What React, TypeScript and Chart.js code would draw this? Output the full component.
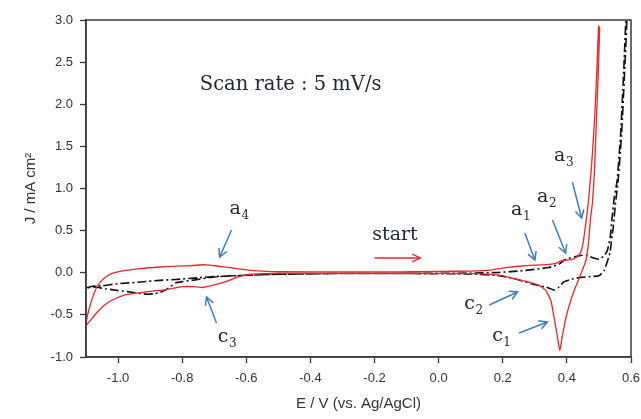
import React, { useEffect, useRef } from 'react';
import { Chart, registerables } from 'chart.js';

Chart.register(...registerables);

// ---- Axis setup ----
const xTicks = [-1.0, -0.8, -0.6, -0.4, -0.2, 0.0, 0.2, 0.4, 0.6];
const yTicks = [-1.0, -0.5, 0.0, 0.5, 1.0, 1.5, 2.0, 2.5, 3.0];
const xTitle = 'E / V (vs. Ag/AgCl)';
const yTitle = 'J / mA cm\u00B2';

// ---- Red (solid) CV loop: E (V), J (mA/cm2) ----
const redE = [
  -0.10, 0.00, 0.10, 0.16, 0.21, 0.26, 0.30, 0.345, 0.365, 0.381, 0.396, 0.417, 0.432, 0.443, 0.450, 0.456, 0.461, 0.467, 0.477, 0.487, 0.494, 0.499,
  0.502, 0.498, 0.492, 0.486, 0.480, 0.474, 0.467, 0.459, 0.443, 0.427, 0.412, 0.396, 0.386, 0.378, 0.372, 0.366, 0.360, 0.350, 0.334, 0.313, 0.282, 0.241, 0.199, 0.158, 0.106, 0.00, -0.20, -0.40, -0.50,
  -0.55, -0.60, -0.63, -0.66, -0.70, -0.735, -0.765, -0.80, -0.85, -0.90, -0.95, -0.98, -1.005, -1.03, -1.05, -1.07, -1.085, -1.10,
  -1.095, -1.088, -1.08, -1.065, -1.045, -1.02, -0.98, -0.93, -0.87, -0.82, -0.77, -0.735, -0.715, -0.69, -0.65, -0.60, -0.55, -0.50, -0.30, -0.10,
];
const redJ = [
  0.012, 0.016, 0.02, 0.03, 0.06, 0.08, 0.09, 0.10, 0.11, 0.14, 0.15, 0.16, 0.19, 0.24, 0.34, 0.50, 0.65, 0.84, 1.27, 1.86, 2.46, 2.93,
  2.90, 2.40, 1.80, 1.20, 0.84, 0.65, 0.34, 0.14, -0.02, -0.17, -0.33, -0.55, -0.75, -0.92, -0.80, -0.66, -0.53, -0.33, -0.21, -0.15, -0.11, -0.075, -0.035, -0.016, -0.01, -0.008, -0.008, -0.008, -0.008,
  -0.012, -0.025, -0.055, -0.10, -0.145, -0.175, -0.165, -0.165, -0.20, -0.22, -0.245, -0.265, -0.30, -0.35, -0.41, -0.49, -0.56, -0.62,
  -0.50, -0.40, -0.30, -0.16, -0.07, -0.01, 0.025, 0.05, 0.068, 0.078, 0.085, 0.095, 0.09, 0.08, 0.06, 0.035, 0.02, 0.012, 0.01, 0.012,
];

// ---- Black (dash-dot) CV loop ----
const blackE = [
  -0.10, 0.10, 0.19, 0.261, 0.344, 0.375, 0.396, 0.437, 0.459, 0.479, 0.50, 0.516, 0.526, 0.535, 0.541, 0.548, 0.557, 0.568, 0.578, 0.584,
  0.587, 0.581, 0.571, 0.560, 0.551, 0.545, 0.541, 0.535, 0.530, 0.516, 0.50, 0.469, 0.443, 0.417, 0.390, 0.375, 0.360, 0.334, 0.292, 0.241, 0.189, 0.10, -0.10, -0.30, -0.50,
  -0.60, -0.70, -0.76, -0.80, -0.82, -0.85, -0.87, -0.89, -0.91, -0.95, -1.00, -1.04, -1.07, -1.10,
  -1.08, -1.05, -1.00, -0.93, -0.87, -0.82, -0.75, -0.70, -0.60, -0.50, -0.30, -0.10,
];
const blackJ = [
  -0.008, -0.004, 0.004, 0.024, 0.063, 0.10, 0.16, 0.20, 0.21, 0.18, 0.16, 0.20, 0.26, 0.42, 0.65, 0.90, 1.10, 1.67, 2.46, 3.0,
  3.0, 2.46, 1.67, 1.10, 0.80, 0.55, 0.44, 0.25, 0.18, 0.024, -0.035, -0.047, -0.055, -0.075, -0.11, -0.17, -0.205, -0.17, -0.134, -0.075, -0.035, -0.015, -0.009, -0.009, -0.018,
  -0.03, -0.05, -0.085, -0.105, -0.12, -0.20, -0.235, -0.25, -0.255, -0.235, -0.21, -0.19, -0.17, -0.18,
  -0.16, -0.155, -0.13, -0.11, -0.09, -0.08, -0.06, -0.045, -0.03, -0.018, -0.009, -0.008,
];

// ---- Peak annotations (data coordinates) ----
const peakMain = ['a', 'a', 'a', 'a', 'c', 'c', 'c'];
const peakSub = ['1', '2', '3', '4', '1', '2', '3'];
const peakLabelE = [0.226, 0.307, 0.360, -0.652, 0.167, 0.080, -0.689];
const peakLabelJ = [0.685, 0.840, 1.326, 0.697, -0.810, -0.430, -0.822];
const arrowFromE = [0.269, 0.355, 0.417, -0.646, 0.251, 0.158, -0.693];
const arrowFromJ = [0.472, 0.626, 1.077, 0.507, -0.715, -0.383, -0.596];
const arrowToE = [0.300, 0.396, 0.446, -0.683, 0.339, 0.246, -0.724];
const arrowToJ = [0.151, 0.234, 0.650, 0.187, -0.584, -0.228, -0.288];

const scanText = 'Scan rate : 5 mV/s';
const scanPos = [-0.745, 2.169];
const startText = 'start';
const startPos = [-0.207, 0.389];
const startArrow = [-0.200, 0.175, -0.057, 0.175];

const RED = '#e8262b';
const BLUE = '#3d7dbd';
const INK = '#1c2530';
const AXIS = '#3a3a3a';
const SERIF = '"DejaVu Serif", "Liberation Serif", serif';
const SANS = '"Liberation Sans", Arial, sans-serif';

function drawArrow(ctx: CanvasRenderingContext2D, x1: number, y1: number, x2: number, y2: number, head: number, spread: number) {
  ctx.beginPath();
  ctx.moveTo(x1, y1);
  ctx.lineTo(x2, y2);
  ctx.stroke();
  const ang = Math.atan2(y2 - y1, x2 - x1);
  ctx.beginPath();
  ctx.moveTo(x2 - head * Math.cos(ang - spread), y2 - head * Math.sin(ang - spread));
  ctx.lineTo(x2, y2);
  ctx.lineTo(x2 - head * Math.cos(ang + spread), y2 - head * Math.sin(ang + spread));
  ctx.stroke();
}

const framePlugin = {
  id: 'frame',
  afterDraw(chart: any) {
    const { ctx, chartArea } = chart;
    ctx.save();
    ctx.strokeStyle = AXIS;
    ctx.lineWidth = 1.5;
    ctx.strokeRect(chartArea.left, chartArea.top, chartArea.right - chartArea.left, chartArea.bottom - chartArea.top);
    ctx.restore();
  },
};

const annotationPlugin = {
  id: 'cvAnnotations',
  afterDraw(chart: any) {
    const { ctx } = chart;
    const xs = chart.scales.x;
    const ys = chart.scales.y;
    const px = (v: number) => xs.getPixelForValue(v);
    const py = (v: number) => ys.getPixelForValue(v);
    ctx.save();
    ctx.textBaseline = 'alphabetic';
    ctx.textAlign = 'left';
    ctx.fillStyle = INK;
    ctx.font = `19.5px ${SERIF}`;
    ctx.fillText(scanText, px(scanPos[0]), py(scanPos[1]));
    ctx.font = `19px ${SERIF}`;
    ctx.fillText(startText, px(startPos[0]), py(startPos[1]));

    // start arrow
    ctx.strokeStyle = RED;
    ctx.lineWidth = 1.3;
    drawArrow(ctx, px(startArrow[0]), py(startArrow[1]), px(startArrow[2]), py(startArrow[3]), 9, 0.45);

    // peak labels + arrows
    for (let i = 0; i < peakMain.length; i++) {
      const lx = px(peakLabelE[i]);
      const ly = py(peakLabelJ[i]);
      ctx.fillStyle = INK;
      ctx.font = `19px ${SERIF}`;
      ctx.fillText(peakMain[i], lx, ly);
      const w = ctx.measureText(peakMain[i]).width;
      ctx.font = `12px ${SERIF}`;
      ctx.fillText(peakSub[i], lx + w + 0.5, ly + 5);
      ctx.strokeStyle = BLUE;
      ctx.lineWidth = 1.5;
      drawArrow(ctx, px(arrowFromE[i]), py(arrowFromJ[i]), px(arrowToE[i]), py(arrowToJ[i]), 9, 0.5);
    }
    ctx.restore();
  },
};

export default function App() {
  const ref = useRef<HTMLCanvasElement | null>(null);
  useEffect(() => {
    const canvas = ref.current;
    if (!canvas) return;
    const red = redE.map((e, i) => ({ x: e, y: redJ[i] }));
    const black = blackE.map((e, i) => ({ x: e, y: blackJ[i] }));
    const chart = new Chart(canvas, {
      type: 'scatter',
      data: {
        datasets: [
          { data: red, showLine: true, borderColor: RED, borderWidth: 1.3, pointRadius: 0, tension: 0.15, fill: false },
          { data: black, showLine: true, borderColor: '#111111', borderWidth: 1.6, borderDash: [9, 3, 2, 3], pointRadius: 0, tension: 0.15, fill: false },
        ],
      },
      options: {
        animation: false,
        responsive: false,
        layout: { padding: { top: 20, right: 10, left: 0, bottom: 0 } },
        plugins: { legend: { display: false }, tooltip: { enabled: false } },
        scales: {
          x: {
            type: 'linear',
            min: -1.1,
            max: 0.6,
            afterBuildTicks: (s: any) => { s.ticks = xTicks.map((v) => ({ value: v })); },
            afterFit: (s: any) => { s.height = 62; s.paddingLeft = 0; s.paddingRight = 0; },
            ticks: {
              autoSkip: false,
              maxRotation: 0,
              padding: 8,
              color: '#333333',
              font: { family: SANS, size: 13 },
              callback: (v: any) => Number(v).toFixed(1),
            },
            grid: { drawOnChartArea: false, drawTicks: true, tickLength: 6, tickColor: AXIS, tickWidth: 1.3 },
            border: { display: true, color: AXIS, width: 1.5 },
            title: { display: true, text: xTitle, color: '#333333', font: { family: SANS, size: 15 }, padding: { top: 0, bottom: 6 } },
          },
          y: {
            type: 'linear',
            min: -1.0,
            max: 3.0,
            afterBuildTicks: (s: any) => { s.ticks = yTicks.map((v) => ({ value: v })); },
            afterFit: (s: any) => { s.width = 86; s.paddingTop = 0; s.paddingBottom = 0; },
            ticks: {
              autoSkip: false,
              padding: 7,
              color: '#333333',
              font: { family: SANS, size: 13 },
              callback: (v: any) => Number(v).toFixed(1),
            },
            grid: { drawOnChartArea: false, drawTicks: true, tickLength: 6, tickColor: AXIS, tickWidth: 1.3 },
            border: { display: true, color: AXIS, width: 1.5 },
            title: { display: true, text: yTitle, color: '#333333', font: { family: SANS, size: 15 }, padding: { top: 22, bottom: 0 } },
          },
        },
      },
      plugins: [framePlugin, annotationPlugin],
    } as any);
    return () => chart.destroy();
  }, []);
  return (
    <div style={{ position: 'fixed', left: 0, top: 0, width: 641, height: 419, background: '#ffffff' }}>
      <canvas ref={ref} width={641} height={419} style={{ width: 641, height: 419, display: 'block' }} />
    </div>
  );
}
